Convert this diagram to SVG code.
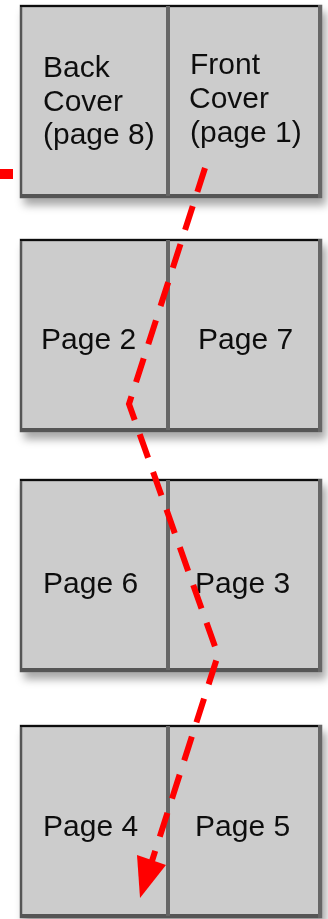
<svg xmlns="http://www.w3.org/2000/svg" width="328" height="919" viewBox="0 0 328 919">
<style>
.pg{fill:#cccccc;stroke:#555;stroke-width:2.5}
.top{stroke:#111;stroke-width:2}
.bot{stroke:#555;stroke-width:4}
.rgt{stroke:#666;stroke-width:4}
.div{stroke:#666;stroke-width:4}
.t{font-family:"Liberation Sans",Arial,sans-serif;font-size:30px;fill:#111}
.dash{fill:none;stroke:#ff0000;stroke-width:6;stroke-dasharray:25 15}
</style>
<defs>
<filter id="sh" x="-10%" y="-10%" width="125%" height="130%">
<feDropShadow dx="4" dy="7" stdDeviation="4" flood-color="#000" flood-opacity="0.35"/>
</filter>
</defs>
<rect width="328" height="919" fill="#fff"/>
<g id="spread1" filter="url(#sh)">
<rect class="pg" x="21" y="6" width="300" height="191"/>
<line class="top" x1="20" y1="6" x2="322" y2="6"/>
<line class="bot" x1="20" y1="196" x2="322" y2="196"/>
<line class="rgt" x1="320" y1="5" x2="320" y2="198"/>
<line class="div" x1="168" y1="6" x2="168" y2="196"/>
<text class="t" x="43" y="77">Back</text>
<text class="t" x="43" y="111">Cover</text>
<text class="t" x="43" y="144">(page 8)</text>
<text class="t" x="190" y="74">Front</text>
<text class="t" x="189" y="108">Cover</text>
<text class="t" x="190" y="142">(page 1)</text>
</g>
<g id="spread2" filter="url(#sh)">
<rect class="pg" x="21" y="240" width="300" height="191"/>
<line class="top" x1="20" y1="240" x2="322" y2="240"/>
<line class="bot" x1="20" y1="430" x2="322" y2="430"/>
<line class="rgt" x1="320" y1="239" x2="320" y2="432"/>
<line class="div" x1="168" y1="240" x2="168" y2="430"/>
<text class="t" x="41" y="349">Page 2</text>
<text class="t" x="198" y="349">Page 7</text>
</g>
<g id="spread3" filter="url(#sh)">
<rect class="pg" x="21" y="480" width="300" height="191"/>
<line class="top" x1="20" y1="480" x2="322" y2="480"/>
<line class="bot" x1="20" y1="670" x2="322" y2="670"/>
<line class="rgt" x1="320" y1="479" x2="320" y2="672"/>
<line class="div" x1="168" y1="480" x2="168" y2="670"/>
<text class="t" x="43" y="593">Page 6</text>
<text class="t" x="195" y="593">Page 3</text>
</g>
<g id="spread4" filter="url(#sh)">
<rect class="pg" x="21" y="726" width="300" height="191"/>
<line class="top" x1="20" y1="726" x2="322" y2="726"/>
<line class="bot" x1="20" y1="916" x2="322" y2="916"/>
<line class="rgt" x1="320" y1="725" x2="320" y2="918"/>
<line class="div" x1="168" y1="726" x2="168" y2="916"/>
<text class="t" x="43" y="836">Page 4</text>
<text class="t" x="195" y="836">Page 5</text>
</g>
<g id="connectors">
<rect x="0" y="169" width="13" height="10" fill="#ff0000"/>
<polyline class="dash" points="205,168 129,404 218,655 152,861"/>
<polygon points="137,855 166,865 140,898" fill="#ff0000"/>
</g>
</svg>
